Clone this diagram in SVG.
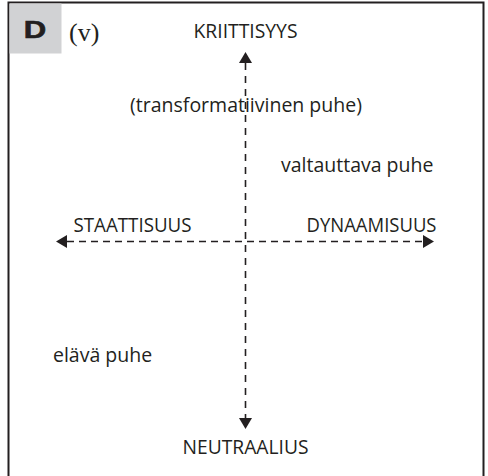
<svg xmlns="http://www.w3.org/2000/svg" width="488" height="476" viewBox="0 0 488 476">
<defs>
<style>
.lbl{font-family:"Open Sans","Liberation Sans",sans-serif;font-size:19.5px;fill:#231f20}
.cap{font-family:"Open Sans","Liberation Sans",sans-serif;font-size:20.5px;fill:#231f20}
.axis{stroke:#231f20;stroke-width:1.6;fill:none;stroke-dasharray:7 5}
.vaxis{stroke:#231f20;stroke-width:1.6;fill:none;stroke-dasharray:7 6}
.head{fill:#231f20}
</style>
</defs>
<rect x="0" y="0" width="488" height="476" fill="#ffffff"/>
<g id="frame">
<path d="M8.5 476 V2.5 H483.5 V476" fill="none" stroke="#231f20" stroke-width="2"/>
<rect x="9.5" y="3.5" width="52" height="50" fill="#d1d2d4"/>
<text x="0" y="0" transform="translate(35 38) scale(1.35 1)" text-anchor="middle" font-family="'Liberation Sans',Arial,sans-serif" font-weight="bold" font-size="23" fill="#231f20" stroke="#231f20" stroke-width="0.6">D</text>
<text x="69" y="41" font-family="'Liberation Serif','Times New Roman',serif" font-size="26" fill="#231f20">(v)</text>
</g>
<g id="connectors">
<line class="vaxis" x1="245.5" y1="63" x2="245.5" y2="418"/>
<line class="axis" x1="67" y1="241.5" x2="423" y2="241.5"/>
<polygon class="head" points="245.5,52 239,63 252,63"/>
<polygon class="head" points="245.5,429 239,418 252,418"/>
<polygon class="head" points="56,241.5 67,235 67,248"/>
<polygon class="head" points="434,241.5 423,235 423,248"/>
</g>
<g id="n-kriittisyys"><text class="cap" x="193.5" y="37.5" textLength="104" lengthAdjust="spacingAndGlyphs">KRIITTISYYS</text></g>
<g id="n-transformatiivinen"><text class="lbl" x="246" y="111.5" text-anchor="middle">(transformatiivinen puhe)</text></g>
<g id="n-valtauttava"><text class="lbl" x="281" y="172">valtauttava puhe</text></g>
<g id="n-staattisuus"><text class="cap" x="73.5" y="231.5" textLength="118" lengthAdjust="spacingAndGlyphs">STAATTISUUS</text></g>
<g id="n-dynaamisuus"><text class="cap" x="306.5" y="231.5" textLength="130" lengthAdjust="spacingAndGlyphs">DYNAAMISUUS</text></g>
<g id="n-elava"><text class="lbl" x="53" y="362">elävä puhe</text></g>
<g id="n-neutraalius"><text class="cap" x="182.5" y="454" textLength="126" lengthAdjust="spacingAndGlyphs">NEUTRAALIUS</text></g>
</svg>
